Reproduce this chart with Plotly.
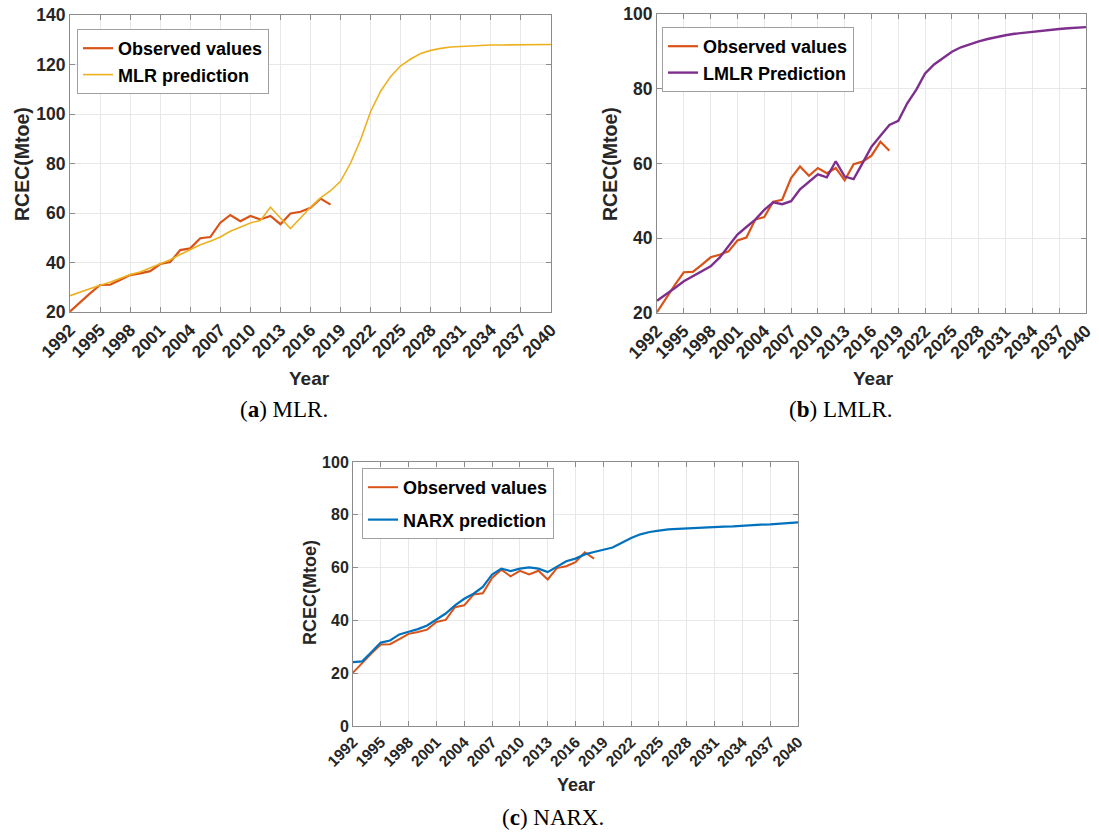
import plotly.graph_objects as go

# ---------------- data ----------------
years_obs = list(range(1992, 2019))
observed = [20.2, 24.0, 27.5, 30.9, 31.0, 32.9, 34.9, 35.6, 36.5, 39.4,
            40.2, 45.0, 45.7, 49.8, 50.3, 56.1, 59.2, 56.7, 58.8, 57.4,
            58.8, 55.5, 59.8, 60.5, 62.1, 65.8, 63.4]

years_pred = list(range(1992, 2041))
mlr_pred = [26.6, 28.1, 29.3, 30.8, 32.0, 33.7, 35.1, 36.2, 37.8, 39.5,
            41.1, 43.2, 45.2, 47.2, 48.6, 50.3, 52.6, 54.3, 56.0, 57.0,
            62.3, 58.0, 53.7, 58.0, 62.3, 66.1, 69.0, 72.8, 80.2, 89.6,
            101.0, 109.2, 115.2, 119.5, 122.2, 124.4, 125.7, 126.5, 127.1, 127.3,
            127.6, 127.7, 127.9, 127.9, 128.0, 128.1, 128.1, 128.1, 128.1]
lmlr_pred = [23.3, 24.9, 26.7, 28.5, 29.8, 31.0, 32.5, 34.8, 37.8, 41.0,
             43.0, 45.0, 47.6, 49.6, 49.1, 49.9, 53.1, 55.2, 57.1, 56.3,
             60.6, 56.5, 55.8, 60.1, 64.5, 67.4, 70.3, 71.4, 76.1, 79.7,
             84.1, 86.5, 88.3, 89.9, 91.1, 92.0, 92.7, 93.3, 93.9, 94.3,
             94.7, 95.0, 95.3, 95.5, 95.8, 96.0, 96.2, 96.3, 96.5]
narx_pred = [24.2, 24.5, 28.0, 31.6, 32.4, 34.7, 35.7, 36.7, 38.1, 40.3,
             42.6, 45.7, 48.2, 50.1, 52.7, 57.4, 59.6, 58.7, 59.6, 60.1,
             59.6, 58.3, 60.5, 62.4, 63.4, 65.0, 65.9, 66.8, 67.6, 69.4,
             71.2, 72.6, 73.5, 74.0, 74.5, 74.7, 74.9, 75.0, 75.3, 75.4,
             75.5, 75.6, 75.9, 76.0, 76.3, 76.4, 76.6, 76.9, 77.1]

year_ticks = [1992, 1995, 1998, 2001, 2004, 2007, 2010, 2013, 2016,
              2019, 2022, 2025, 2028, 2031, 2034, 2037, 2040]
yticks_a = [20, 40, 60, 80, 100, 120, 140]
yticks_b = [20, 40, 60, 80, 100]
yticks_c = [0, 20, 40, 60, 80, 100]

# ---------------- style ----------------
W, H = 1099, 832
C_OBS = "#D95319"
C_MLR = "#EDB120"
C_LMLR = "#7E2F8E"
C_NARX = "#0072BD"
AX_COL = "#8c8c8c"
GRID_COL = "#e8e8e8"
TXT = "#262626"
SANS = "Liberation Sans"
SERIF = "Liberation Serif"


def dx(l, r):
    return [l / W, r / W]


def dy(t, b):
    return [1 - b / H, 1 - t / H]


def xax(dom, anchor, fs):
    return dict(domain=dom, anchor=anchor, range=[1992, 2040], tickvals=year_ticks,
                ticktext=[str(v) for v in year_ticks], tickangle=-45, automargin=False,
                showgrid=True, gridcolor=GRID_COL, gridwidth=1, zeroline=False,
                showline=True, linecolor=AX_COL, linewidth=1, mirror="ticks",
                ticks="inside", ticklen=5, tickcolor=AX_COL,
                tickfont=dict(family=SANS, size=fs, color=TXT, weight="bold"))


def yax(dom, anchor, rng, vals, fs):
    return dict(domain=dom, anchor=anchor, range=rng, tickvals=vals, automargin=False,
                showgrid=True, gridcolor=GRID_COL, gridwidth=1, zeroline=False,
                showline=True, linecolor=AX_COL, linewidth=1, mirror="ticks",
                ticks="inside", ticklen=5, tickcolor=AX_COL,
                tickfont=dict(family=SANS, size=fs, color=TXT, weight="bold"))


def leg(x, y, gap=0):
    return dict(x=x / W, y=1 - y / H, xanchor="left", yanchor="top",
                bordercolor="#a0a0a0", borderwidth=1, bgcolor="white",
                font=dict(family=SANS, size=18, color="black", weight="bold"),
                itemwidth=30, tracegroupgap=gap, traceorder="grouped",
                itemclick=False, itemdoubleclick=False)


fig = go.Figure()

# panel a
fig.add_trace(go.Scatter(x=years_obs, y=observed, mode="lines", name="Observed values",
                         line=dict(color=C_OBS, width=2.2), xaxis="x", yaxis="y",
                         legend="legend", legendgroup="a1"))
fig.add_trace(go.Scatter(x=years_pred, y=mlr_pred, mode="lines", name="MLR prediction",
                         line=dict(color=C_MLR, width=1.6), xaxis="x", yaxis="y",
                         legend="legend", legendgroup="a2"))
# panel b
fig.add_trace(go.Scatter(x=years_obs, y=observed, mode="lines", name="Observed values",
                         line=dict(color=C_OBS, width=2.2), xaxis="x2", yaxis="y2",
                         legend="legend2", legendgroup="b1"))
fig.add_trace(go.Scatter(x=years_pred, y=lmlr_pred, mode="lines", name="LMLR Prediction",
                         line=dict(color=C_LMLR, width=2.4), xaxis="x2", yaxis="y2",
                         legend="legend2", legendgroup="b2"))
# panel c
fig.add_trace(go.Scatter(x=years_obs, y=observed, mode="lines", name="Observed values",
                         line=dict(color=C_OBS, width=2), xaxis="x3", yaxis="y3",
                         legend="legend3", legendgroup="c1"))
fig.add_trace(go.Scatter(x=years_pred, y=narx_pred, mode="lines", name="NARX prediction",
                         line=dict(color=C_NARX, width=2.2), xaxis="x3", yaxis="y3",
                         legend="legend3", legendgroup="c2"))

annotations = []


def title_ann(text, x, y, size, angle=0):
    annotations.append(dict(text=text, x=x / W, y=1 - y / H, xref="paper", yref="paper",
                            showarrow=False, textangle=angle, xanchor="center", yanchor="middle",
                            font=dict(family=SANS, size=size, color=TXT, weight="bold")))


def caption(text, x, y, size=23):
    annotations.append(dict(text=text, x=x / W, y=1 - y / H, xref="paper", yref="paper",
                            showarrow=False, xanchor="center", yanchor="middle",
                            font=dict(family=SERIF, size=size, color="black")))


title_ann("Year", 309, 378, 19)
title_ann("Year", 873, 378, 19)
title_ann("Year", 576, 785, 18)
title_ann("RCEC(Mtoe)", 22, 164, 19.5, -90)
title_ann("RCEC(Mtoe)", 610, 164, 19.5, -90)
title_ann("RCEC(Mtoe)", 310, 593, 18, -90)
caption("(<b>a</b>) MLR.", 284, 409)
caption("(<b>b</b>) LMLR.", 841, 409)
caption("(<b>c</b>) NARX.", 553, 817)

fig.update_layout(
    width=W, height=H, margin=dict(l=0, r=0, t=0, b=0, autoexpand=False),
    paper_bgcolor="white", plot_bgcolor="white",
    xaxis=xax(dx(70, 551), "y", 17.5),
    yaxis=yax(dy(15, 312), "x", [20, 140], yticks_a, 17.5),
    xaxis2=xax(dx(657, 1086), "y2", 17.5),
    yaxis2=yax(dy(14, 313), "x2", [20, 100], yticks_b, 17.5),
    xaxis3=xax(dx(353, 798), "y3", 15.5),
    yaxis3=yax(dy(462, 726), "x3", [0, 100], yticks_c, 16),
    legend=leg(77, 29),
    legend2=leg(662, 27),
    legend3=leg(362, 468, 6),
    annotations=annotations,
    showlegend=True,
)

fig.write_html("out.html")
